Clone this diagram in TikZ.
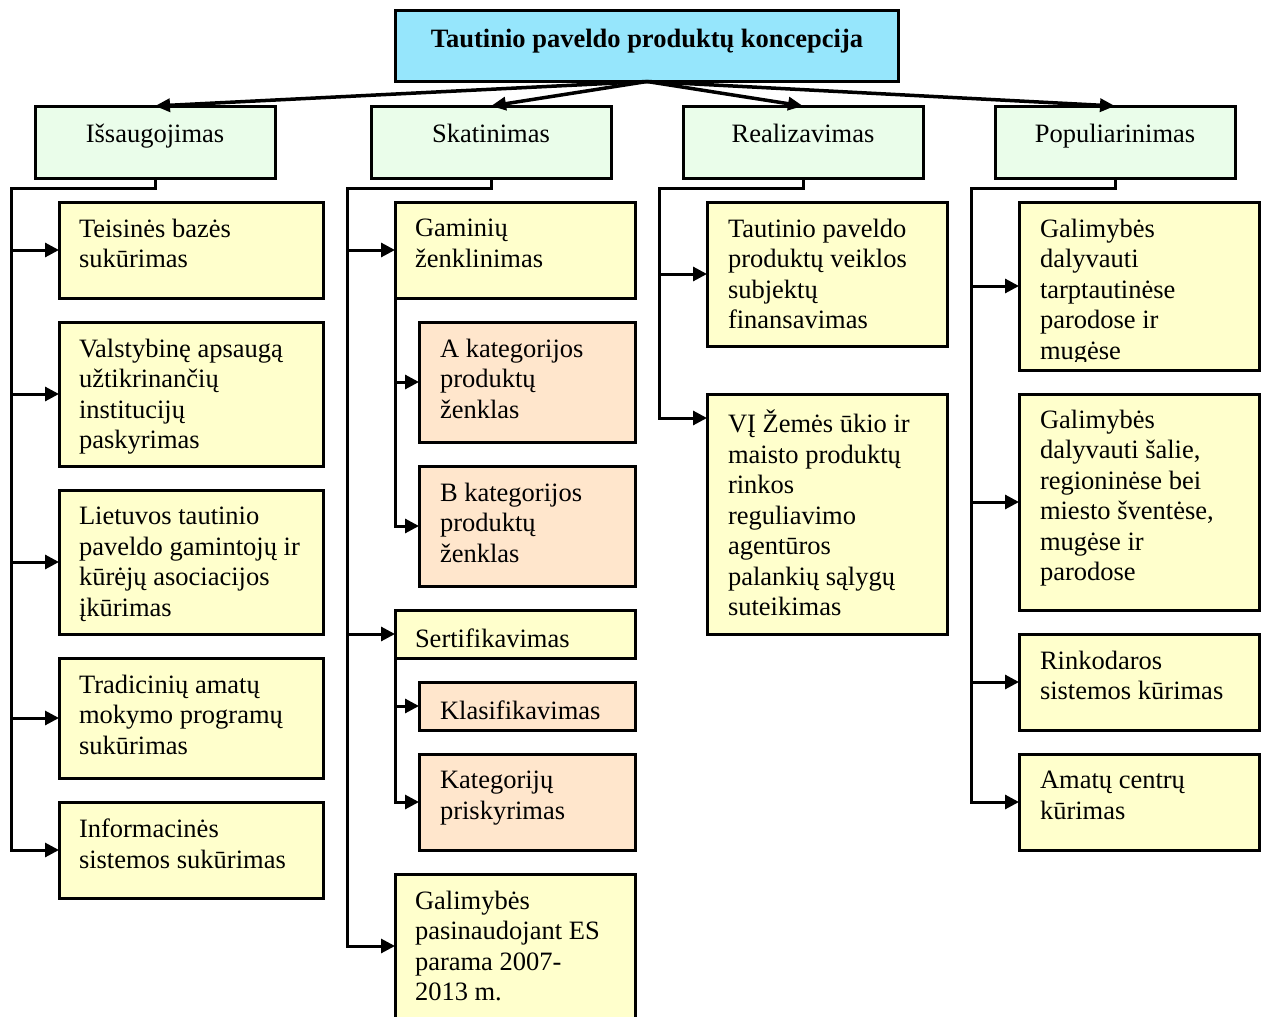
\documentclass[tikz,border=0pt]{standalone}
\usepackage{fontspec}
\setmainfont{Liberation Serif}
\usetikzlibrary{arrows.meta}
\definecolor{titlefill}{RGB}{150,230,252}
\definecolor{headfill}{RGB}{234,253,234}
\definecolor{itemfill}{RGB}{255,255,204}
\definecolor{subfill}{RGB}{255,230,204}
\newcommand\bodyfont{\fontsize{26.5}{30.5}\selectfont}

\begin{document}
\begin{tikzpicture}[x=1pt,y=-1pt,
  frame/.style={draw=black, line width=3pt, inner sep=0pt, outer sep=0pt, anchor=north west},
  titlebox/.style={frame, fill=titlefill, line width=3.5pt},
  headbox/.style={frame, fill=headfill},
  itembox/.style={frame, fill=itemfill},
  subbox/.style={frame, fill=subfill},
  txt/.style={align=left, inner sep=0pt, outer sep=0pt, anchor=north west,
    font=\bodyfont, execute at begin node=\strut},
  headtxt/.style={inner sep=0pt, anchor=base, font=\bodyfont},
  link/.style={line width=3pt, line cap=rect},
  arr/.style={line width=3pt, -{Triangle[length=14pt,width=14pt]}},
  toparr/.style={line width=3.5pt, -{Triangle[length=15pt,width=13pt]}},
]
\useasboundingbox (0,0) rectangle (1262,1017);
\clip (0,0) rectangle (1262,1017);

% ---- title ----
\node[titlebox, minimum width=503, minimum height=71] (title) at (395.5,10.5) {};
\node[headtxt, font=\bodyfont\bfseries] (titlet) at ([yshift=-37pt]title.north)
  {Tautinio paveldo produktų koncepcija};

% ---- main directions ----
\node[headbox, minimum width=240, minimum height=72] (h1) at (35,106) {};
\node[headbox, minimum width=240, minimum height=72] (h2) at (371,106) {};
\node[headbox, minimum width=240, minimum height=72] (h3) at (683,106) {};
\node[headbox, minimum width=240, minimum height=72] (h4) at (995,106) {};
\node[headtxt] (h1t) at ([yshift=-36.5pt]h1.north) {Išsaugojimas};
\node[headtxt] (h2t) at ([yshift=-36.5pt]h2.north) {Skatinimas};
\node[headtxt] (h3t) at ([yshift=-36.5pt]h3.north) {Realizavimas};
\node[headtxt] (h4t) at ([yshift=-36.5pt]h4.north) {Populiarinimas};

\foreach \h in {h1,h2,h3,h4}
  \draw[toparr] (title.south) -- (\h.north);

% ---- Išsaugojimas ----
\node[itembox, minimum width=264, minimum height=96]  (a1) at (59,202) {};
\node[itembox, minimum width=264, minimum height=144] (a2) at (59,322) {};
\node[itembox, minimum width=264, minimum height=144] (a3) at (59,490) {};
\node[itembox, minimum width=264, minimum height=120] (a4) at (59,658) {};
\node[itembox, minimum width=264, minimum height=96]  (a5) at (59,802) {};
\node[txt] (a1t) at ([xshift=20pt,yshift=-17pt]a1.north west) {Teisinės bazės\\sukūrimas};
\node[txt] (a2t) at ([xshift=20pt,yshift=-17pt]a2.north west) {Valstybinę apsaugą\\užtikrinančių\\institucijų\\paskyrimas};
\node[txt] (a3t) at ([xshift=20pt,yshift=-17pt]a3.north west) {Lietuvos tautinio\\paveldo gamintojų ir\\kūrėjų asociacijos\\įkūrimas};
\node[txt] (a4t) at ([xshift=20pt,yshift=-17pt]a4.north west) {Tradicinių amatų\\mokymo programų\\sukūrimas};
\node[txt] (a5t) at ([xshift=20pt,yshift=-17pt]a5.north west) {Informacinės\\sistemos sukūrimas};

\coordinate (t1) at (11,188);
\draw[link] (h1.south) |- (t1) -- (t1 |- a5.west);
\foreach \n in {a1,a2,a3,a4,a5}
  \draw[arr] (t1 |- \n.west) -- (\n.west);

% ---- Skatinimas ----
\node[itembox, minimum width=240, minimum height=96]  (b1) at (395,202) {};
\node[subbox,  minimum width=216, minimum height=120] (b1a) at (419,322) {};
\node[subbox,  minimum width=216, minimum height=120] (b1b) at (419,466) {};
\node[itembox, minimum width=240, minimum height=48]  (b2) at (395,610) {};
\node[subbox,  minimum width=216, minimum height=48]  (b2a) at (419,682) {};
\node[subbox,  minimum width=216, minimum height=96]  (b2b) at (419,754) {};
\node[itembox, minimum width=240, minimum height=170] (b3) at (395,874) {};
\node[txt] (b1t) at ([xshift=20pt,yshift=-17pt]b1.north west) {Gaminių\\ženklinimas};
\node[txt] (b1at) at ([xshift=21pt,yshift=-17pt]b1a.north west) {A kategorijos\\produktų\\ženklas};
\node[txt] (b1bt) at ([xshift=21pt,yshift=-17pt]b1b.north west) {B kategorijos\\produktų\\ženklas};
\node[txt] (b2t) at ([xshift=20pt,yshift=-16pt]b2.north west) {Sertifikavimas};
\node[txt] (b2at) at ([xshift=21pt,yshift=-16pt]b2a.north west) {Klasifikavimas};
\node[txt] (b2bt) at ([xshift=21pt,yshift=-17pt]b2b.north west) {Kategorijų\\priskyrimas};
\node[txt] (b3t) at ([xshift=20pt,yshift=-17pt]b3.north west) {Galimybės\\pasinaudojant ES\\parama 2007-\\2013 m.};

\coordinate (t2) at (347,188);
\coordinate (b3in) at ([yshift=-72pt]b3.north west);
\draw[link] (h2.south) |- (t2) -- (t2 |- b3in);
\draw[arr] (t2 |- b1.west) -- (b1.west);
\draw[arr] (t2 |- b2.west) -- (b2.west);
\draw[arr] (t2 |- b3in) -- (b3in);

\draw[link] (b1.south west) -- (b1.south west |- b1b.west);
\draw[arr] (b1.south west |- b1a.west) -- (b1a.west);
\draw[arr] (b1.south west |- b1b.west) -- (b1b.west);

\draw[link] (b2.south west) -- (b2.south west |- b2b.west);
\draw[arr] (b2.south west |- b2a.west) -- (b2a.west);
\draw[arr] (b2.south west |- b2b.west) -- (b2b.west);

% ---- Realizavimas ----
\node[itembox, minimum width=240, minimum height=144] (c1) at (707,202) {};
\node[itembox, minimum width=240, minimum height=240] (c2) at (707,394) {};
\node[txt] (c1t) at ([xshift=21pt,yshift=-17pt]c1.north west) {Tautinio paveldo\\produktų veiklos\\subjektų\\finansavimas};
\node[txt] (c2t) at ([xshift=21pt,yshift=-16pt]c2.north west) {VĮ Žemės ūkio ir\\maisto produktų\\rinkos\\reguliavimo\\agentūros\\palankių sąlygų\\suteikimas};

\coordinate (t3) at (659,188);
\coordinate (c2in) at ([yshift=-24pt]c2.north west);
\draw[link] (h3.south) |- (t3) -- (t3 |- c2in);
\draw[arr] (t3 |- c1.west) -- (c1.west);
\draw[arr] (t3 |- c2in) -- (c2in);

% ---- Populiarinimas ----
\node[itembox, minimum width=240, minimum height=168] (d1) at (1019,202) {};
\node[itembox, minimum width=240, minimum height=216] (d2) at (1019,394) {};
\node[itembox, minimum width=240, minimum height=96]  (d3) at (1019,634) {};
\node[itembox, minimum width=240, minimum height=96]  (d4) at (1019,754) {};
\begin{scope}
  \clip (d1.north west) rectangle ([yshift=9pt]d1.south east);
  \node[txt] (d1t) at ([xshift=21pt,yshift=-17pt]d1.north west) {Galimybės\\dalyvauti\\tarptautinėse\\parodose ir\\mugėse};
\end{scope}
\node[txt] (d2t) at ([xshift=21pt,yshift=-16pt]d2.north west) {Galimybės\\dalyvauti šalie,\\regioninėse bei\\miesto šventėse,\\mugėse ir\\parodose};
\node[txt] (d3t) at ([xshift=21pt,yshift=-17pt]d3.north west) {Rinkodaros\\sistemos kūrimas};
\node[txt] (d4t) at ([xshift=21pt,yshift=-17pt]d4.north west) {Amatų centrų\\kūrimas};

\coordinate (t4) at (971,188);
\draw[link] (h4.south) |- (t4) -- (t4 |- d4.west);
\foreach \n in {d1,d2,d3,d4}
  \draw[arr] (t4 |- \n.west) -- (\n.west);
\end{tikzpicture}
\end{document}
